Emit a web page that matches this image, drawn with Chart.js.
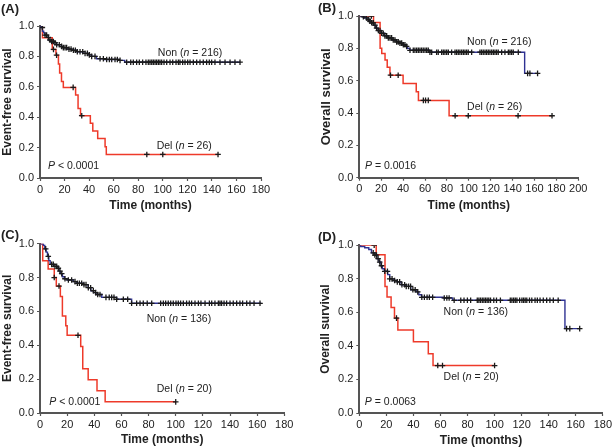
<!DOCTYPE html>
<html>
<head>
<meta charset="utf-8">
<script src="https://cdn.jsdelivr.net/npm/chart.js@4.4.0/dist/chart.umd.min.js"></script>
<style>
  body { margin: 0; background: #fff; }
  #wrap { position: relative; width: 614px; height: 448px; }
  canvas { position: absolute; }
</style>
</head>
<body>
<div id="wrap">
  <canvas id="chartA" width="307" height="224" style="left:0;top:0"></canvas>
  <canvas id="chartB" width="307" height="224" style="left:307px;top:0"></canvas>
  <canvas id="chartC" width="307" height="224" style="left:0;top:224px"></canvas>
  <canvas id="chartD" width="307" height="224" style="left:307px;top:224px"></canvas>
</div>
<script>
"use strict";

// (A) event-free survival, 216 / 26
const aNonTime = [0, 1, 2, 3, 4, 5.5, 7, 9, 11, 13.5, 16, 18, 22, 26, 30, 35, 39, 42, 46, 52, 64, 69, 163];
const aNonSurv = [1, 0.99, 0.965, 0.955, 0.94, 0.925, 0.908, 0.898, 0.89, 0.877, 0.866, 0.858, 0.848, 0.84, 0.831, 0.82, 0.81, 0.8, 0.785, 0.78, 0.774, 0.762, 0.762];
const aNonCens = [1.9, 4.1, 5.4, 6.8, 8.1, 9.5, 10.9, 12.2, 13.6, 15.7, 17.6, 19, 20.4, 21.7, 23.6, 25.3, 27.2, 28.8, 30.4, 32.6, 34.8, 36.7, 38.6, 40.2, 42.1, 44.8, 48.9, 51.6, 54.3, 56.5, 58.4, 61.1, 63, 65.2, 70.6, 73.9, 76, 78.7, 80.9, 83.6, 86.3, 88.2, 89.6, 91, 92.3, 93.7, 95, 96.4, 97.7, 99.1, 101, 103.2, 105.9, 108.1, 110.8, 112.7, 114, 116.2, 118.1, 120.3, 122.2, 124.9, 127.6, 130.3, 133, 135.7, 137.9, 139.8, 142.5, 146.6, 150.7, 154.8, 158.8, 162.9];
const aDelTime = [0, 2, 10, 13, 15, 16, 17.5, 19, 29, 31, 33, 41, 43, 47, 53, 54, 145];
const aDelSurv = [1, 0.923, 0.846, 0.808, 0.75, 0.69, 0.635, 0.596, 0.546, 0.458, 0.41, 0.36, 0.31, 0.26, 0.206, 0.155, 0.155];
const aDelCens = [11, 13.5, 27, 34, 87, 100, 145];

// (B) overall survival, 216 / 26
const bNonTime = [0, 3, 5, 7, 9, 11, 13, 15, 17, 20, 23, 26, 30, 34, 37, 40, 42, 44, 46, 64, 151, 163];
const bNonSurv = [1, 0.995, 0.988, 0.978, 0.968, 0.958, 0.943, 0.925, 0.91, 0.893, 0.877, 0.865, 0.852, 0.84, 0.832, 0.822, 0.812, 0.8, 0.788, 0.776, 0.645, 0.645];
const bNonCens = [3.7, 6.7, 8.2, 9.7, 11.3, 12.8, 14.3, 15.8, 17.4, 18.9, 20.4, 21.9, 23.4, 25, 26.5, 28, 29.5, 31, 32.6, 34.1, 35.6, 37.1, 38.7, 40.2, 41.7, 43.2, 46.3, 49.3, 50.8, 52.4, 53.9, 55.4, 56.9, 58.4, 60, 61.5, 63, 64.5, 66.1, 70.6, 72.1, 75.2, 76.7, 78.2, 79.8, 81.3, 84.3, 87.4, 88.9, 90.4, 91.9, 93.5, 95, 96.5, 98, 99.5, 102.6, 110.2, 111.7, 113.2, 114.8, 116.3, 117.8, 119.3, 120.9, 122.4, 123.9, 125.4, 126.9, 130, 133, 136.1, 137.6, 139.1, 140.6, 145.2, 153.7, 155.8, 162.8];
const bDelTime = [0, 13, 19, 20.5, 23.5, 25.5, 28, 40, 52, 54, 82, 176];
const bDelSurv = [1, 0.96, 0.8, 0.768, 0.728, 0.683, 0.634, 0.583, 0.531, 0.478, 0.383, 0.383];
const bDelCens = [11, 28.5, 35.5, 58.5, 60.5, 63, 87.5, 99.5, 145, 176];

// (C) event-free survival, 136 / 20
const cNonTime = [0, 2.5, 3.5, 4.5, 5.5, 6.5, 7.5, 10, 12.5, 14, 15, 16.5, 18, 20, 24.5, 27, 32, 35.5, 37.5, 39.5, 42, 45.5, 56.5, 67.5, 163];
const cNonSurv = [1, 0.99, 0.97, 0.95, 0.925, 0.9, 0.878, 0.866, 0.855, 0.838, 0.823, 0.805, 0.793, 0.786, 0.776, 0.766, 0.758, 0.74, 0.722, 0.711, 0.7, 0.683, 0.672, 0.648, 0.648];
const cNonCens = [4.2, 6.1, 8.6, 9.8, 11, 12.3, 13.5, 14.7, 16, 18.4, 20.9, 23.3, 25.8, 27.5, 29, 30.7, 32.4, 33.9, 35.6, 37.3, 39.3, 41, 42.5, 44.2, 48.6, 51, 52.8, 54.5, 56.5, 61.4, 64.6, 67.5, 71.2, 73.7, 76.1, 79, 82.3, 88.9, 90.9, 92.6, 94.5, 96.3, 98.2, 100.2, 101.9, 103.6, 105.6, 108, 110, 111.7, 114.2, 116.7, 118.6, 121.6, 124.8, 126.5, 128.9, 131.4, 132.6, 133.8, 135.6, 137.5, 140, 142.4, 144.9, 147.3, 149.3, 152.3, 154.7, 157.7, 162.1];
const cDelTime = [0, 2, 6, 10.5, 12, 15, 16.5, 19, 20, 30, 31.5, 35.5, 42, 48, 100];
const cDelSurv = [1, 0.9, 0.85, 0.8, 0.75, 0.688, 0.573, 0.516, 0.459, 0.393, 0.262, 0.197, 0.131, 0.066, 0.066];
const cDelCens = [10.5, 14, 28, 100];

// (D) overall survival, 136 / 20
const dNonTime = [0, 1, 4, 7, 9, 11.5, 13, 14.5, 16, 17, 18.5, 21, 22.5, 25, 28, 31, 34, 38, 42, 44, 46, 62, 69, 152, 163];
const dNonSurv = [1, 0.993, 0.985, 0.975, 0.955, 0.942, 0.92, 0.9, 0.878, 0.86, 0.845, 0.825, 0.8, 0.79, 0.782, 0.765, 0.755, 0.735, 0.722, 0.705, 0.69, 0.686, 0.672, 0.503, 0.503];
const dNonCens = [10.3, 11.5, 12.7, 13.9, 15.1, 16.4, 18.8, 20.8, 22.5, 24.2, 26.1, 28.1, 29.8, 31.5, 33.5, 34.7, 36.4, 37.9, 39.6, 41.3, 43.2, 46.2, 48.1, 50.1, 51.8, 54.2, 62.8, 64.7, 66.4, 70.1, 75, 77.4, 79.9, 82.3, 87.2, 88.4, 89.6, 90.9, 92.1, 93.3, 94.5, 95.7, 97, 99.4, 101.4, 104.3, 111.6, 112.8, 114.1, 115.3, 116.5, 118.5, 120.2, 121.4, 122.6, 123.8, 125.8, 127.5, 129.9, 131.6, 133.6, 136, 138.5, 140.9, 143.4, 147, 153.2, 155.6, 162.9];
const dDelTime = [0, 12.5, 19, 20.5, 23.5, 26, 28.5, 40, 51, 54.5, 100];
const dDelSurv = [1, 0.944, 0.755, 0.692, 0.629, 0.566, 0.495, 0.425, 0.354, 0.283, 0.283];
const dDelCens = [11, 27.5, 58, 61.5, 100];

const yTicks = [0, 0.2, 0.4, 0.6, 0.8, 1.0];

const fam = '"Liberation Sans", Arial, Helvetica, sans-serif';
const textColor = '#222';
const axisColor = '#555';
const red = '#ee3a2a';
const blue = '#2e3192';

function toPoints(times, surv) {
    return times.map((t, i) => ({x: t, y: surv[i]}));
}

// censored subjects sit on the curve at their time
function onCurve(times, surv, cens) {
    return cens.map((t) => {
        let s = surv[0];
        for (let i = 0; i < times.length; i++) {
            if (times[i] <= t) s = surv[i];
        }
        return {x: t, y: s};
    });
}

const notesPlugin = {
    id: 'notes',
    afterDraw(chart, args, opts) {
        const ctx = chart.ctx;
        const xs = chart.scales.x;
        const ys = chart.scales.y;
        ctx.save();
        ctx.fillStyle = textColor;
        ctx.textBaseline = 'middle';
        ctx.textAlign = 'left';
        opts.items.forEach((item) => {
            let px = xs.getPixelForValue(item.t);
            const py = ys.getPixelForValue(item.s);
            item.parts.forEach(([txt, italic]) => {
                ctx.font = (italic ? 'italic ' : '') + '10.5px ' + fam;
                ctx.fillText(txt, px, py);
                px += ctx.measureText(txt).width;
            });
        });
        ctx.font = 'bold 13px ' + fam;
        ctx.fillText(opts.letter, opts.lx, opts.ly);
        ctx.restore();
    }
};

function makePanel(id, p) {
    const ctx = document.getElementById(id);
    return new Chart(ctx, {
        type: 'line',
        data: {
            datasets: [
                {
                    data: onCurve(p.nonT, p.nonS, p.nonC),
                    showLine: false,
                    pointStyle: 'cross',
                    pointRadius: 2.8,
                    pointBorderWidth: 1.3,
                    pointBorderColor: '#1a1a1a'
                },
                {
                    data: onCurve(p.delT, p.delS, p.delC),
                    showLine: false,
                    pointStyle: 'cross',
                    pointRadius: 2.8,
                    pointBorderWidth: 1.3,
                    pointBorderColor: '#1a1a1a'
                },
                {
                    data: toPoints(p.nonT, p.nonS),
                    stepped: true,
                    borderColor: blue,
                    borderWidth: 1.4,
                    pointRadius: 0
                },
                {
                    data: toPoints(p.delT, p.delS),
                    stepped: true,
                    borderColor: red,
                    borderWidth: 1.5,
                    pointRadius: 0
                }
            ]
        },
        options: {
            responsive: false,
            animation: false,
            devicePixelRatio: 1,
            layout: {padding: p.pad},
            plugins: {
                legend: {display: false},
                tooltip: {enabled: false},
                notes: {items: p.notes, letter: p.letter, lx: p.lx, ly: p.ly}
            },
            scales: {
                x: {
                    type: 'linear',
                    min: 0,
                    max: p.xMax,
                    afterFit: (s) => { s.height = p.xH; },
                    border: {color: axisColor, width: 2},
                    grid: {drawOnChartArea: false, tickLength: 3, tickColor: axisColor, tickWidth: 1.2},
                    ticks: {stepSize: 20, padding: 2, color: textColor, font: {family: fam, size: 11}, maxRotation: 0},
                    title: {display: true, text: 'Time (months)', color: textColor, padding: 0,
                        font: {family: fam, size: 12, weight: 'bold'}}
                },
                y: {
                    min: 0,
                    max: 1,
                    afterFit: (s) => { s.width = p.yW; },
                    afterBuildTicks: (s) => { s.ticks = yTicks.map((v) => ({value: v})); },
                    border: {color: axisColor, width: 2},
                    grid: {drawOnChartArea: false, tickLength: 3, tickColor: axisColor, tickWidth: 1.2},
                    ticks: {padding: 3, color: textColor, font: {family: fam, size: 11},
                        callback: (v) => Number(v).toFixed(1)},
                    title: {display: true, text: p.yTitle, color: textColor, padding: 0,
                        font: {family: fam, size: p.yTitleSize, weight: 'bold'}}
                }
            }
        },
        plugins: [notesPlugin]
    });
}

makePanel('chartA', {
    nonT: aNonTime, nonS: aNonSurv, nonC: aNonCens,
    delT: aDelTime, delS: aDelSurv, delC: aDelCens,
    xMax: 180, yTitle: 'Event-free survival', yTitleSize: 12,
    pad: {left: 0, right: 46, top: 26, bottom: 10.8}, yW: 40, xH: 35.2,
    letter: '(A)', lx: 1, ly: 9,
    notes: [
        {t: 96, s: 0.822, parts: [['Non (', false], ['n', true], [' = 216)', false]]},
        {t: 95, s: 0.21, parts: [['Del (', false], ['n', true], [' = 26)', false]]},
        {t: 6.5, s: 0.079, parts: [['P', true], [' < 0.0001', false]]}
    ]
});

makePanel('chartB', {
    nonT: bNonTime, nonS: bNonSurv, nonC: bNonCens,
    delT: bDelTime, delS: bDelSurv, delC: bDelCens,
    xMax: 200, yTitle: 'Overall survival', yTitleSize: 13,
    pad: {left: 11.5, right: 35.7, top: 16, bottom: 10.8}, yW: 40.8, xH: 35.5,
    letter: '(B)', lx: 11, ly: 8,
    notes: [
        {t: 98.4, s: 0.836, parts: [['Non (', false], ['n', true], [' = 216)', false]]},
        {t: 98.4, s: 0.436, parts: [['Del (', false], ['n', true], [' = 26)', false]]},
        {t: 5.2, s: 0.074, parts: [['P', true], [' = 0.0016', false]]}
    ]
});

makePanel('chartC', {
    nonT: cNonTime, nonS: cNonSurv, nonC: cNonCens,
    delT: cDelTime, delS: cDelSurv, delC: cDelCens,
    xMax: 180, yTitle: 'Event-free survival', yTitleSize: 12,
    pad: {left: 0, right: 22.7, top: 19.7, bottom: 1.5}, yW: 40, xH: 33.5,
    letter: '(C)', lx: 1, ly: 11,
    notes: [
        {t: 78.6, s: 0.553, parts: [['Non (', false], ['n', true], [' = 136)', false]]},
        {t: 86, s: 0.144, parts: [['Del (', false], ['n', true], [' = 20)', false]]},
        {t: 6.9, s: 0.065, parts: [['P', true], [' < 0.0001', false]]}
    ]
});

makePanel('chartD', {
    nonT: dNonTime, nonS: dNonSurv, nonC: dNonCens,
    delT: dDelTime, delS: dDelSurv, delC: dDelCens,
    xMax: 180, yTitle: 'Overall survival', yTitleSize: 12,
    pad: {left: 11.8, right: 9, top: 21.3, bottom: 0.5}, yW: 40.5, xH: 34.5,
    letter: '(D)', lx: 11, ly: 13,
    notes: [
        {t: 62.3, s: 0.602, parts: [['Non (', false], ['n', true], [' = 136)', false]]},
        {t: 62.3, s: 0.215, parts: [['Del (', false], ['n', true], [' = 20)', false]]},
        {t: 4.1, s: 0.066, parts: [['P', true], [' = 0.0063', false]]}
    ]
});
</script>
</body>
</html>
